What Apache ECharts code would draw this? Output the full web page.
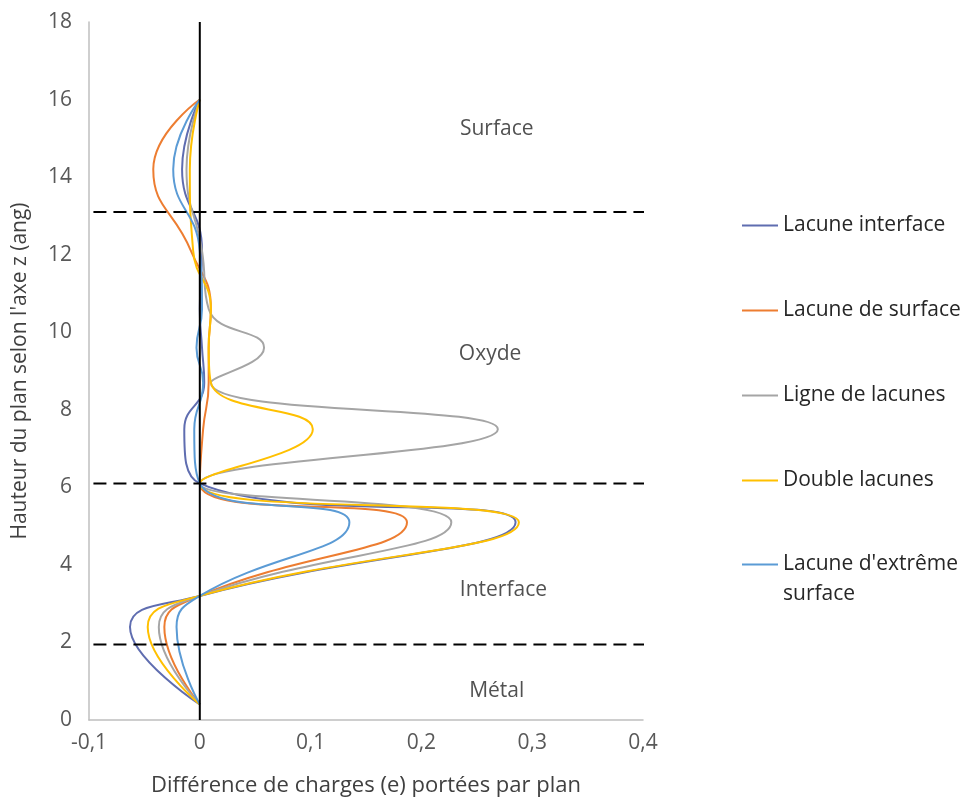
<!DOCTYPE html>
<html>
<head>
<meta charset="utf-8">
<script src="https://cdn.jsdelivr.net/npm/echarts@6/dist/echarts.min.js"></script>
<style>
  html, body { margin: 0; padding: 0; background: #fff; }
  #main { width: 969px; height: 808px; }
</style>
</head>
<body>
<div id="main"></div>
<script>
// hauteurs des plans (ang)
var hauteurs = [0.4, 2.4, 3.2, 5.1, 6.1, 7.5, 8.7, 9.6, 10.6, 12.1, 14.2, 16.0];

// difference de charges par plan, une liste par cas
var lacuneInterface   = [0, -0.063, 0, 0.285, 0, -0.014, 0.004, 0.002, 0.000, 0.002, -0.016, 0];
var lacuneSurface     = [0, -0.032, 0, 0.187, 0,  0.003, 0.008, 0.008, 0.010, -0.008, -0.042, 0];
var ligneLacunes      = [0, -0.037, 0, 0.227, 0,  0.269, 0.010, 0.058, 0.008, 0.002, -0.012, 0];
var doubleLacunes     = [0, -0.047, 0, 0.288, 0,  0.102, 0.010, 0.008, 0.010, -0.006, -0.009, 0];
var lacuneExtreme     = [0, -0.021, 0, 0.135, 0, -0.005, 0.003, -0.003, 0.002, 0.000, -0.024, 0];

var nomsSeries = ['Lacune interface', 'Lacune de surface', 'Ligne de lacunes', 'Double lacunes', "Lacune d'extrême surface"];
var couleurs = ['#5f6db0', '#ed7d31', '#a5a5a5', '#ffc000', '#5b9bd5'];

// limites des zones (pointilles) et noms des zones
var limites = [13.1, 6.1, 1.95];
var zones = ['Surface', 'Oxyde', 'Interface', 'Métal'];
var zonesX = [0.268, 0.262, 0.274, 0.268];
var zonesY = [15.25, 9.45, 3.35, 0.75];

var xTicks = [-0.1, 0.4];
var yTicks = [0, 18];

function paires(xs) {
    return xs.map(function (x, i) { return [x, hauteurs[i]]; });
}

var myChart = echarts.init(document.getElementById('main'));
var police = 'Open Sans';
var taille = 21;

var series = [];
[lacuneInterface, lacuneSurface, ligneLacunes, doubleLacunes, lacuneExtreme].forEach(function (d, i) {
    series.push({
        name: nomsSeries[i],
        type: 'line',
        smooth: 0.5,
        symbol: 'none',
        z: 3,
        lineStyle: { width: 2, color: couleurs[i] },
        itemStyle: { color: couleurs[i] },
        data: paires(d)
    });
});

// axe vertical noir en x = 0
series.push({
    name: 'zero',
    type: 'line',
    symbol: 'none',
    silent: true,
    z: 4,
    lineStyle: { width: 2, color: '#000' },
    data: [[0, yTicks[0]], [0, yTicks[1]]]
});

limites.forEach(function (h) {
    series.push({
        name: 'limite' + h,
        type: 'line',
        symbol: 'none',
        silent: true,
        clip: false,
        z: 5,
        lineStyle: { width: 2, color: '#000', type: [13, 7] },
        data: [[-0.096, h], [0.418, h]]
    });
});

series.push({
    name: 'zones',
    type: 'scatter',
    symbolSize: 0,
    silent: true,
    label: {
        show: true,
        position: 'inside',
        formatter: function (p) { return p.name; },
        fontFamily: police,
        fontSize: taille,
        color: '#262626'
    },
    data: zones.map(function (z, i) { return { name: z, value: [zonesX[i], zonesY[i]] }; })
});

var legendeBase = {
    orient: 'vertical',
    left: 737,
    icon: 'rect',
    itemWidth: 36,
    itemHeight: 2,
    itemGap: 56,
    textStyle: { fontFamily: police, fontSize: taille, color: '#262626', lineHeight: 29 }
};

// le dernier nom tient sur deux lignes : la suite est ecrite sous l'entree
var finNom = "Lacune d'extrême surface".split(' ');
var suiteNom = finNom.pop();

var option = {
    animation: false,
    backgroundColor: '#fff',
    textStyle: { fontFamily: police },
    grid: { left: 89, right: 326, top: 22, bottom: 88 },
    legend: [
        Object.assign({}, legendeBase, {
            top: 206,
            data: nomsSeries.slice(0, 4)
        }),
        Object.assign({}, legendeBase, {
            top: 545,
            data: nomsSeries.slice(4),
            formatter: function () { return finNom.join(' '); }
        })
    ],
    graphic: [{
        type: 'text',
        left: 783,
        top: 584,
        silent: true,
        style: { text: suiteNom, font: taille + 'px "' + police + '"', fill: '#262626' }
    }],
    xAxis: {
        type: 'value',
        min: xTicks[0],
        max: xTicks[1],
        interval: 0.1,
        name: 'Différence de charges (e) portées par plan',
        nameLocation: 'middle',
        nameGap: 55,
        nameTextStyle: { fontFamily: police, fontSize: 22, color: '#404040' },
        splitLine: { show: false },
        axisTick: { show: false },
        axisLine: { onZero: false, lineStyle: { color: '#bfbfbf', width: 1.5 } },
        axisLabel: {
            margin: 13,
            fontFamily: police, fontSize: taille, color: '#595959',
            formatter: function (v) { return (Math.round(v * 10) / 10).toString().replace('.', ','); }
        }
    },
    yAxis: {
        type: 'value',
        min: yTicks[0],
        max: yTicks[1],
        interval: 2,
        name: "Hauteur du plan selon l'axe z (ang)",
        nameLocation: 'middle',
        nameGap: 58,
        nameTextStyle: { fontFamily: police, fontSize: taille, color: '#404040' },
        splitLine: { show: false },
        axisTick: { show: false },
        axisLine: { show: true, onZero: false, lineStyle: { color: '#bfbfbf', width: 1.5 } },
        axisLabel: { margin: 17, fontFamily: police, fontSize: taille, color: '#595959' }
    },
    series: series
};

myChart.setOption(option);
</script>
</body>
</html>
